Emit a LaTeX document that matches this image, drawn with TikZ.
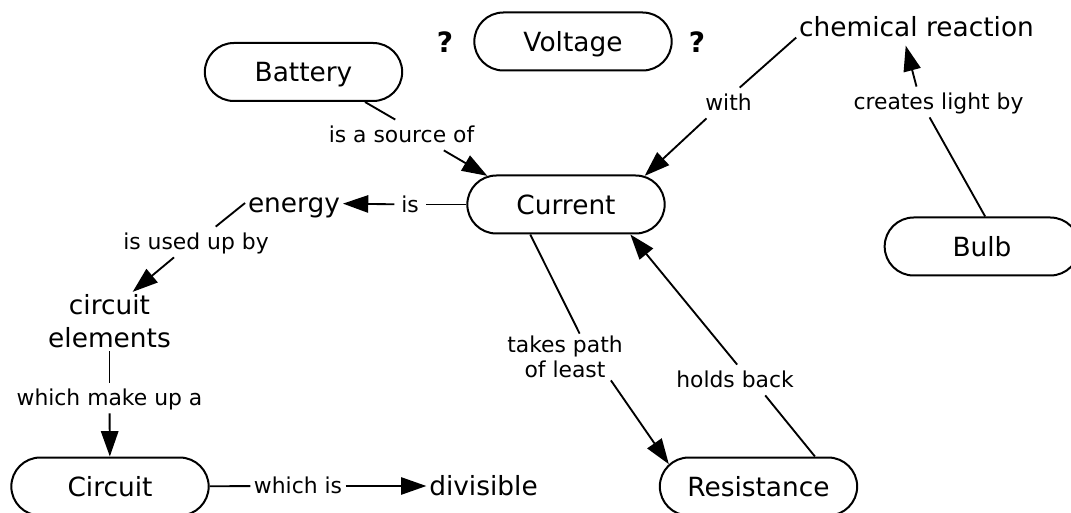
\documentclass[tikz,border=0pt]{standalone}
\usepackage{fontspec}
\setmainfont{DejaVu Sans}
\usetikzlibrary{arrows.meta,shapes.misc}
\newcommand{\conceptsize}{\fontsize{19.8}{24.75}\selectfont}
\newcommand{\linksize}{\fontsize{16.4}{19}\selectfont}
\tikzset{>={Triangle[length=19pt,width=13pt]},
	concept/.style={draw,rounded rectangle,line width=1.5pt,inner xsep=0pt,
		minimum width=148pt,minimum height=43.5pt,font=\conceptsize,
		text height=19pt,text depth=4.6pt},
	term/.style={font=\conceptsize,inner sep=2pt,text height=19pt,text depth=4.6pt},
	linkword/.style={font=\linksize,inner xsep=5pt,inner ysep=1.5pt,
		text height=15.8pt,text depth=3.9pt},
	conn/.style={line width=1.4pt}}
\tikzstyle{twolines}=[align=center,text height=,text depth=]

\begin{document}
\begin{tikzpicture}[x=0.75pt,y=-0.75pt]
	\useasboundingbox (0,0) rectangle (1071,513);
	% concepts
	\node[concept] (battery) at (303.5,72) {Battery};
	\node[concept] (voltage) at (573,41.5) {Voltage};
	\node[term,font=\fontsize{21}{25}\selectfont\bfseries] (qleft) at (445,43) {?};
	\node[term,font=\fontsize{21}{25}\selectfont\bfseries] (qright) at (697,43) {?};
	\node[term] (chem) at (916.5,27) {chemical reaction};
	\node[concept] (current) at (566,204.5) {Current};
	\node[concept,minimum width=146pt] (bulb) at (982,246.5) {Bulb};
	\node[term] (energy) at (294,203) {energy};
	\node[term,twolines] (elements) at (109.5,321.5) {circuit\\elements};
	\node[concept] (circuit) at (110,486.5) {Circuit};
	\node[term] (divisible) at (483.5,486) {divisible};
	\node[concept] (resistance) at (758.5,486.5) {Resistance};
	% linking words
	\node[linkword] (srcof) at (401.5,135) {is a source of};
	\node[linkword] (islab) at (410,204.5) {is};
	\node[linkword] (usedup) at (196,242) {is used up by};
	\node[linkword] (makeup) at (109.5,398) {which make up a};
	\node[linkword,inner xsep=2.5pt] (whichis) at (298,486) {which is};
	\node[linkword,twolines] (takes) at (565,357) {takes path\\of least};
	\node[linkword] (holds) at (735,380) {holds back};
	\node[linkword] (with) at (728.5,103) {with};
	\node[linkword] (creates) at (938.5,102) {creates light by};
	% connections
	\draw[conn] (battery.-26) -- (srcof.112);
	\draw[conn,->] (srcof.-20) -- (current.160);
	\draw[conn] (current) -- (islab);
	\draw[conn,->] (islab) -- (energy);
	\draw[conn] (energy.west) -- (usedup.38);
	\draw[conn,->] (usedup.-145) -- (elements.52);
	\draw[conn] (elements) -- (makeup);
	\draw[conn,->] (makeup) -- (circuit);
	\draw[conn] (circuit) -- (whichis);
	\draw[conn,->] (whichis) -- (divisible);
	\draw[conn] (current.-140) -- (takes.58);
	\draw[conn,->] (takes.-27) -- (resistance.166);
	\draw[conn] (resistance.28) -- (holds.-27);
	\draw[conn,->] (holds.82) -- (current.-25);
	\draw[conn] (chem.-175) -- (with.54);
	\draw[conn,->] (with.-145) -- (current.20);
	\draw[conn] (bulb.84) -- (creates.-120);
	\draw[conn,->] (creates.145) -- (chem.-120);
\end{tikzpicture}
\end{document}
